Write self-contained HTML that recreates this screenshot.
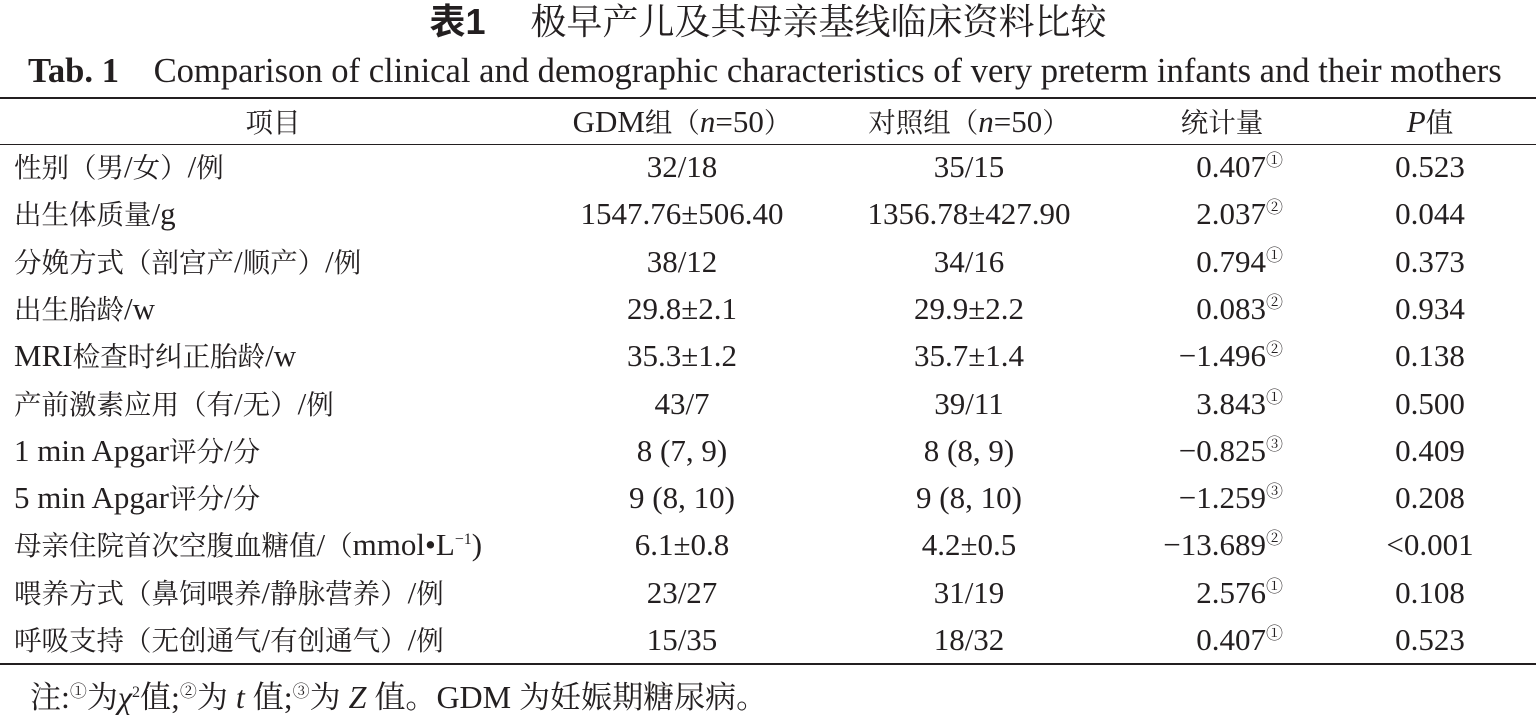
<!DOCTYPE html>
<html><head><meta charset="utf-8"><style>
body{margin:0;width:1536px;height:717px;background:#fff;position:relative;overflow:hidden;font-family:"Liberation Serif","Noto Serif CJK SC",serif;color:#231f20;}
.a{position:absolute;white-space:nowrap;line-height:1;}
.t{font-size:31px;}
.k{font-size:27.5px;}
.f .k{font-size:31px;}
.c{transform:translateX(-50%);}
.r{transform:translateX(-100%);}
.hr{position:absolute;left:0;width:1536px;background:#231f20;}
sup{font-size:17px;vertical-align:0;position:relative;top:-11px;}
</style></head><body>
<div class="a c" style="left:768px;top:4px;font-size:36px;"><b style="font-family:'Liberation Sans','Noto Sans CJK SC',sans-serif">表1</b>&nbsp;&nbsp;&nbsp;&nbsp;&nbsp;极早产儿及其母亲基线临床资料比较</div>
<div class="a" style="left:28px;top:54px;font-size:34.6px;"><b>Tab. 1</b>&nbsp;&nbsp;&nbsp; Comparison of clinical and demographic characteristics of very preterm infants and their mothers</div>
<div class="hr" style="top:97px;height:2px"></div>
<div class="hr" style="top:144px;height:1px"></div>
<div class="hr" style="top:663px;height:2px"></div>
<div class="a t c w" style="left:273px;top:106px">项目</div>
<div class="a t c w" style="left:682px;top:106px">GDM组（<i>n</i>=50）</div>
<div class="a t c w" style="left:969px;top:106px">对照组（<i>n</i>=50）</div>
<div class="a t c w" style="left:1222px;top:106px">统计量</div>
<div class="a t c w" style="left:1430px;top:106px"><i>P</i>值</div>
<div id="rows"></div>
<div class="a t w f" style="left:30px;top:681px;font-size:32px">注:<sup>①</sup>为<i>χ</i><sup style="font-size:16px">2</sup>值;<sup>②</sup>为 <i>t</i> 值;<sup>③</sup>为 <i>Z</i> 值。GDM 为妊娠期糖尿病。</div>
<script>
var d=[["性别(男/女)/例","32/18","35/15","0.407","①","0.523"],
["出生体质量/g","1547.76±506.40","1356.78±427.90","2.037","②","0.044"],
["分娩方式(剖宫产/顺产)/例","38/12","34/16","0.794","①","0.373"],
["出生胎龄/w","29.8±2.1","29.9±2.2","0.083","②","0.934"],
["MRI检查时纠正胎龄/w","35.3±1.2","35.7±1.4","−1.496","②","0.138"],
["产前激素应用(有/无)/例","43/7","39/11","3.843","①","0.500"],
["1 min Apgar评分/分","8 (7, 9)","8 (8, 9)","−0.825","③","0.409"],
["5 min Apgar评分/分","9 (8, 10)","9 (8, 10)","−1.259","③","0.208"],
["母亲住院首次空腹血糖值/(mmol•L<sup style='font-size:16px'>−1</sup>)","6.1±0.8","4.2±0.5","−13.689","②","&lt;0.001"],
["喂养方式(鼻饲喂养/静脉营养)/例","23/27","31/19","2.576","①","0.108"],
["呼吸支持(无创通气/有创通气)/例","15/35","18/32","0.407","①","0.523"]];
var h="";
d.forEach(function(r,i){var y=151+i*47.3;
h+='<div class="a t w" style="left:14px;top:'+y+'px">'+r[0].replace(/\(/g,'（').replace(/\)\//g,'）/')+'</div>';
h+='<div class="a t c" style="left:682px;top:'+y+'px">'+r[1]+'</div>';
h+='<div class="a t c" style="left:969px;top:'+y+'px">'+r[2]+'</div>';
h+='<div class="a t r" style="left:1283px;top:'+y+'px">'+r[3]+'<sup>'+r[4]+'</sup></div>';
h+='<div class="a t c" style="left:1430px;top:'+y+'px">'+r[5]+'</div>';});
document.getElementById("rows").innerHTML=h;
document.querySelectorAll('.w').forEach(function(e){
 var walk=function(n){Array.from(n.childNodes).forEach(function(c){
  if(c.nodeType==3){var s=c.textContent;if(/[\u3000-\u9fff\uff00-\uffef]/.test(s)){var sp=document.createElement('span');
   sp.innerHTML=s.replace(/&/g,'&amp;').replace(/</g,'&lt;').replace(/([\u3000-\u9fff\uff00-\uffef]+)/g,'<span class="k">$1</span>');c.replaceWith(sp);}}
  else if(c.nodeType==1&&c.tagName!='SUP')walk(c);});};
 walk(e);});
</script>
</body></html>
